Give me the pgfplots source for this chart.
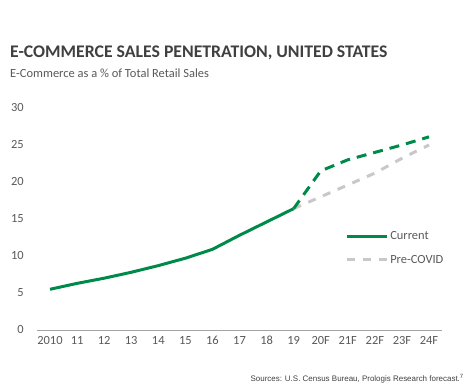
\documentclass[border=0pt]{standalone}
\usepackage{pgfplots}
\pgfplotsset{compat=1.18}
\usepackage{fontspec}
\setmainfont{Carlito}
\newfontfamily\arialf{Liberation Sans}
\definecolor{pgreen}{RGB}{0,138,74}
\definecolor{pgray}{RGB}{200,200,200}
\definecolor{ttl}{RGB}{64,64,64}
\definecolor{tck}{RGB}{89,89,89}
\begin{document}
\begin{tikzpicture}
\useasboundingbox (0,0) rectangle (472bp,390bp);
\node[anchor=base west, inner sep=0, text=ttl, font=\fontsize{17.8}{20}\selectfont\bfseries] at (10bp,390bp-58bp) {E-COMMERCE SALES PENETRATION, UNITED STATES};
\node[anchor=base west, inner sep=0, text=tck, font=\fontsize{12.5}{15}\selectfont] at (10bp,390bp-78bp) {E-Commerce as a \% of Total Retail Sales};
\node[anchor=base east, inner sep=0, text=ttl, font=\arialf\fontsize{8}{9}\selectfont] at (464bp,390bp-381bp) {Sources: U.S. Census Bureau, Prologis Research forecast.\textsuperscript{7}};
\begin{axis}[
  at={(37bp,60bp)}, anchor=south west,
  scale only axis, width=405bp, height=222bp,
  xmin=-0.48, xmax=14.48, ymin=0, ymax=30,
  axis y line=none, axis x line*=bottom,
  axis line style={draw=tck!55, line width=1pt},
  x axis line style={-},
  ytick={0,5,...,30},
  xtick={0,...,14},
  xticklabels={2010,11,12,13,14,15,16,17,18,19,20F,21F,22F,23F,24F},
  major tick length=0pt,
  tick label style={text=tck, font=\fontsize{12.5}{15}\selectfont},
  xticklabel style={text height=9bp, text depth=2bp, yshift=-2bp},
  /pgf/number format/assume math mode=true,
  clip=false,
  legend style={at={(axis cs:10.9,13.6)}, anchor=north west, draw=none, fill=none,
    font=\fontsize{12.5}{15}\selectfont, text=tck, row sep=10bp,
    legend cell align=left, inner sep=0pt},
  legend image code/.code={\draw[#1] (0bp,0bp) -- (40bp,0bp);},
]
\pgfplotsinvokeforeach{0,5,...,30}{
  \node[anchor=east, inner sep=0, text=tck, font=\fontsize{12.5}{15}\selectfont] at (axis cs:-0.48,#1) [xshift=-13bp] {#1};
}
\addplot[pgreen, line width=3bp, line join=round] coordinates {
  (0,5.5) (1,6.3) (2,7.0) (3,7.8) (4,8.7) (5,9.7) (6,10.9) (7,12.8) (8,14.6) (9,16.4)};
\addlegendentry{Current}
\addplot[pgray, line width=3bp, dash pattern=on 8bp off 8bp] coordinates {
  (9,16.4) (10,18.0) (11,19.6) (12,21.2) (13,23.2) (14,25.0)};
\addlegendentry{Pre-COVID}
\addplot[pgreen, line width=3bp, dash pattern=on 10bp off 7bp, forget plot] coordinates {
  (9,16.4) (10,21.5) (11,23.0) (12,24.0) (13,25.0) (14,26.1)};
\end{axis}
\end{tikzpicture}
\end{document}
